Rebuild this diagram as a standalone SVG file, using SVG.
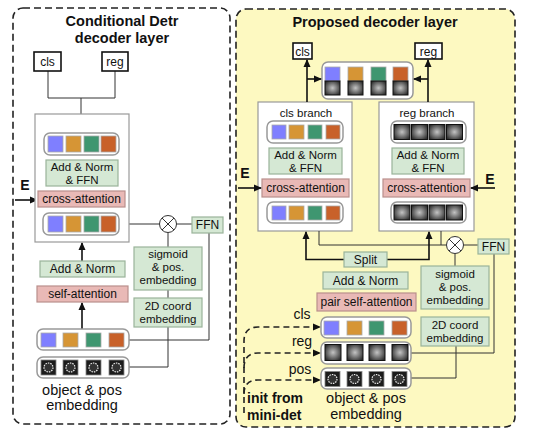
<svg xmlns="http://www.w3.org/2000/svg" xmlns:xlink="http://www.w3.org/1999/xlink" width="538" height="441" viewBox="0 0 538 441">
<style>
text{font-family:"Liberation Sans",Arial,sans-serif;fill:#111;text-anchor:middle}
.t12{font-size:12px}
.t11{font-size:11.5px}
.b{font-weight:bold}
.panel{stroke:#222;stroke-width:1.6;stroke-dasharray:7,4}
.out{fill:#fff;stroke:#111;stroke-width:1.6}
.big{fill:#fff;stroke:#999;stroke-width:1.2}
.row{fill:#fff;stroke:#999;stroke-width:1.5}
.grn{fill:#d5e8d4;stroke:#9ab39a;stroke-width:1.2}
.pnk{fill:#e9b9b6;stroke:#b98f8c;stroke-width:1.2}
.ln{fill:none;stroke:#333;stroke-width:1}
.ar{fill:none;stroke:#111;stroke-width:1.6;marker-end:url(#ah)}
.da{fill:none;stroke:#222;stroke-width:1.6;stroke-dasharray:6,4}
.bl{fill:#7f7fff;stroke:#aaa;stroke-width:0.8}
.or{fill:#d69535;stroke:#aaa;stroke-width:0.8}
.gr{fill:#3f9670;stroke:#aaa;stroke-width:0.8}
.do{fill:#c8612a;stroke:#aaa;stroke-width:0.8}
.gy{fill:url(#rg);stroke:#111;stroke-width:1}
.ps{fill:#1c1c1c;stroke:#888;stroke-width:0.8}
.pc{fill:#333;stroke:#eee;stroke-width:1.2;stroke-dasharray:1.5,1}
.x{fill:#fff;stroke:#333;stroke-width:1}
</style>
<defs>
<radialGradient id="rg" cx="0.5" cy="0.5" r="0.6">
<stop offset="0" stop-color="#c4c4c4"/>
<stop offset="1" stop-color="#2e2e2e"/>
</radialGradient>
<marker id="ah" markerWidth="8" markerHeight="8" refX="7" refY="4" orient="auto" markerUnits="userSpaceOnUse">
<path d="M0,0.5 L8,4 L0,7.5 Z" fill="#111"/>
</marker>
</defs>

<!-- Left panel -->
<g id="left-panel">
<rect class="panel" x="13" y="8" width="217" height="416" rx="10" fill="#fff"/>
<text class="b" x="122" y="26" font-size="14.5">Conditional Detr</text>
<text class="b" x="122" y="43" font-size="14.5">decoder layer</text>
</g>

<g id="connectors-left">
<path class="ln" d="M48 71 V98 H115 V71 M81 98 V133" stroke-width="1.3"/>
<path class="ln" d="M119 224 H159.5 M176.5 224 H192 M168 232.5 V247 M168 290 V298"/>
<path class="ln" d="M209 233 V340 H129 M129 367 H168 V327"/>
<path class="ar" d="M15 200 H37"/>
<path class="ar" d="M82 329 V303"/>
<path class="ar" d="M82 261 V243"/>
</g>

<g id="l-cls"><rect class="out" x="34" y="52" width="27" height="19"/><text class="t12" x="47.5" y="66">cls</text></g>
<g id="l-reg"><rect class="out" x="102" y="52" width="26" height="19"/><text class="t12" x="115" y="66">reg</text></g>

<g id="l-decoder">
<rect class="big" x="35" y="114" width="94" height="128"/>
</g>
<g id="l-row1">
<rect class="row" x="44" y="133" width="75" height="22" rx="6"/>
<rect class="bl" x="48" y="136" width="15" height="16"/><rect class="or" x="66" y="136" width="15" height="16"/><rect class="gr" x="84" y="136" width="15" height="16"/><rect class="do" x="101" y="136" width="15" height="16"/>
</g>
<g id="l-addnormffn"><rect class="grn" x="46" y="160" width="72" height="26"/><text class="t11" x="82" y="170.5">Add &amp; Norm</text><text class="t11" x="82" y="183.5">&amp; FFN</text></g>
<g id="l-cross"><rect class="pnk" x="38" y="191" width="87" height="16"/><text class="t12" x="81.5" y="203">cross-attention</text></g>
<g id="l-E"><text class="b" x="25" y="190" font-size="14">E</text></g>
<g id="l-row2">
<rect class="row" x="43" y="213" width="76" height="22" rx="6"/>
<rect class="bl" x="48" y="216" width="15" height="16"/><rect class="or" x="66" y="216" width="15" height="16"/><rect class="gr" x="84" y="216" width="15" height="16"/><rect class="do" x="101" y="216" width="15" height="16"/>
</g>
<g id="l-mult"><circle class="x" cx="168" cy="224" r="8.5"/><path class="ln" d="M162 218 L174 230 M174 218 L162 230"/></g>
<g id="l-ffn"><rect class="grn" x="192" y="217" width="31" height="16"/><text class="t12" x="207.5" y="229">FFN</text></g>
<g id="l-sigmoid"><rect class="grn" x="134" y="247" width="68" height="43"/><text class="t11" x="168" y="258">sigmoid</text><text class="t11" x="168" y="271">&amp; pos.</text><text class="t11" x="168" y="284">embedding</text></g>
<g id="l-2d"><rect class="grn" x="134" y="298" width="68" height="29"/><text class="t11" x="168" y="310">2D coord</text><text class="t11" x="168" y="323">embedding</text></g>
<g id="l-addnorm"><rect class="grn" x="40" y="261" width="85" height="16"/><text class="t12" x="82.5" y="273">Add &amp; Norm</text></g>
<g id="l-selfattn"><rect class="pnk" x="37" y="286" width="91" height="16"/><text class="t12" x="82.5" y="298">self-attention</text></g>
<g id="l-obj">
<rect class="row" x="37" y="329" width="92" height="21" rx="6"/>
<rect class="bl" x="41" y="333" width="15" height="14"/><rect class="or" x="63" y="333" width="15" height="14"/><rect class="gr" x="86" y="333" width="15" height="14"/><rect class="do" x="109" y="333" width="15" height="14"/>
</g>
<g id="l-pos">
<rect class="row" x="37" y="357" width="92" height="21" rx="6"/>
<rect class="ps" x="41" y="360" width="15" height="15"/><circle class="pc" cx="48.5" cy="367.5" r="4.5"/>
<rect class="ps" x="63" y="360" width="15" height="15"/><circle class="pc" cx="70.5" cy="367.5" r="4.5"/>
<rect class="ps" x="86" y="360" width="15" height="15"/><circle class="pc" cx="93.5" cy="367.5" r="4.5"/>
<rect class="ps" x="109" y="360" width="15" height="15"/><circle class="pc" cx="116.5" cy="367.5" r="4.5"/>
</g>
<g id="l-label"><text x="82" y="395" font-size="14.5">object &amp; pos</text><text x="82" y="410" font-size="14.5">embedding</text></g>

<!-- Right panel -->
<g id="right-panel">
<rect class="panel" x="236" y="9" width="279" height="418" rx="10" fill="#fdf9c1"/>
<text class="b" x="375" y="27" font-size="14.5">Proposed decoder layer</text>
</g>

<g id="r-cls"><rect class="out" x="293" y="43" width="19" height="16"/><text class="t12" x="302.5" y="55.5">cls</text></g>
<g id="r-reg"><rect class="out" x="415" y="43" width="27" height="16"/><text class="t12" x="428.5" y="55.5">reg</text></g>
<g id="r-top">
<rect class="row" x="322" y="62" width="91" height="37" rx="6"/>
<rect class="bl" x="325" y="67" width="15" height="14"/><rect class="or" x="348" y="67" width="15" height="14"/><rect class="gr" x="371" y="67" width="15" height="14"/><rect class="do" x="393" y="67" width="15" height="14"/>
<rect class="gy" x="325" y="81" width="15" height="14"/><rect class="gy" x="348" y="81" width="15" height="14"/><rect class="gy" x="371" y="81" width="15" height="14"/><rect class="gy" x="393" y="81" width="15" height="14"/>
</g>

<g id="r-clsbranch">
<rect class="big" x="258" y="102" width="94" height="129"/>
<text x="306" y="117" font-size="11.5">cls branch</text>
<rect class="row" x="267" y="121" width="76" height="22" rx="6"/>
<rect class="bl" x="272" y="125" width="14" height="14"/><rect class="or" x="289" y="125" width="15" height="14"/><rect class="gr" x="308" y="125" width="14" height="14"/><rect class="do" x="326" y="125" width="14" height="14"/>
<rect class="grn" x="269" y="148" width="73" height="26"/><text class="t11" x="305.5" y="159">Add &amp; Norm</text><text class="t11" x="305.5" y="172">&amp; FFN</text>
<rect class="pnk" x="262" y="179" width="87" height="18"/><text class="t12" x="305.5" y="192">cross-attention</text>
<rect class="row" x="267" y="202" width="76" height="21" rx="6"/>
<rect class="bl" x="272" y="206" width="14" height="14"/><rect class="or" x="289" y="206" width="15" height="14"/><rect class="gr" x="308" y="206" width="14" height="14"/><rect class="do" x="326" y="206" width="14" height="14"/>
</g>

<g id="r-regbranch">
<rect class="big" x="379" y="102" width="95" height="129"/>
<text x="427" y="117" font-size="11.5">reg branch</text>
<rect class="row" x="391" y="121" width="75" height="22" rx="6"/>
<rect class="gy" x="394" y="124.5" width="16" height="15"/><rect class="gy" x="411.5" y="124.5" width="16" height="15"/><rect class="gy" x="429" y="124.5" width="16" height="15"/><rect class="gy" x="446.5" y="124.5" width="16" height="15"/>
<rect class="grn" x="392" y="148" width="72" height="26"/><text class="t11" x="428" y="159">Add &amp; Norm</text><text class="t11" x="428" y="172">&amp; FFN</text>
<rect class="pnk" x="383" y="179" width="87" height="18"/><text class="t12" x="426.5" y="192">cross-attention</text>
<rect class="row" x="391" y="202" width="75" height="21" rx="6"/>
<rect class="gy" x="394" y="205" width="16" height="15"/><rect class="gy" x="411.5" y="205" width="16" height="15"/><rect class="gy" x="429" y="205" width="16" height="15"/><rect class="gy" x="446.5" y="205" width="16" height="15"/>
</g>

<g id="connectors-right">
<path class="ar" d="M307 102 V60"/>
<path class="ar" d="M307 79 H321"/>
<path class="ar" d="M428 102 V60"/>
<path class="ar" d="M428 79 H414"/>
<path class="ar" d="M238 188 H261"/>
<path class="ar" d="M495 188 H471"/>
<path class="ln" d="M319 231 V245 H446.5 M441 231 V245 M463.5 245 H478 M455 253.5 V266"/>
<path class="ar" d="M344 259.5 H306 V232" stroke-width="1.4"/>
<path class="ar" d="M387 259.5 H429 V232" stroke-width="1.4"/>
<path class="ln" d="M494 254 V353 H411 M456 346 V378 H411"/>
<path class="da" d="M244 413 V341 Q244 327 258 327 H319"/>
<path class="da" d="M244 368 Q244 353 258 353 H319"/>
<path class="da" d="M244 394 Q244 380 258 380 H319"/>
<path d="M313 323.5 L321 327 L313 330.5 Z M313 349.5 L321 353 L313 356.5 Z M313 376.5 L321 380 L313 383.5 Z" fill="#111"/>
</g>

<g id="r-E1"><text class="b" x="245" y="178" font-size="14">E</text></g>
<g id="r-E2"><text class="b" x="490" y="184" font-size="14">E</text></g>
<g id="r-mult"><circle class="x" cx="455" cy="245" r="8.5"/><path class="ln" d="M449 239 L461 251 M461 239 L449 251"/></g>
<g id="r-ffn"><rect class="grn" x="478" y="239" width="31" height="15"/><text class="t12" x="493.5" y="251">FFN</text></g>
<g id="r-split"><rect class="grn" x="344" y="252" width="43" height="15"/><text class="t12" x="365.5" y="264">Split</text></g>
<g id="r-addnorm"><rect class="grn" x="323" y="272" width="85" height="17"/><text class="t12" x="365.5" y="285">Add &amp; Norm</text></g>
<g id="r-pairattn"><rect class="pnk" x="317" y="293" width="99" height="18"/><text class="t12" x="366.5" y="306">pair self-attention</text></g>
<g id="r-sigmoid"><rect class="grn" x="421" y="266" width="68" height="43"/><text class="t11" x="455" y="278">sigmoid</text><text class="t11" x="455" y="291">&amp; pos.</text><text class="t11" x="455" y="304">embedding</text></g>
<g id="r-2d"><rect class="grn" x="421" y="317" width="68" height="29"/><text class="t11" x="455" y="329">2D coord</text><text class="t11" x="455" y="342">embedding</text></g>

<g id="r-clsrow">
<rect class="row" x="321" y="317" width="90" height="21" rx="6"/>
<rect class="bl" x="324" y="321" width="15" height="14"/><rect class="or" x="347" y="321" width="15" height="14"/><rect class="gr" x="369" y="321" width="15" height="14"/><rect class="do" x="392" y="321" width="15" height="14"/>
</g>
<g id="r-regrow">
<rect class="row" x="321" y="342" width="90" height="22" rx="6"/>
<rect class="gy" x="325" y="344.5" width="16" height="16"/><rect class="gy" x="347" y="344.5" width="16" height="16"/><rect class="gy" x="369" y="344.5" width="16" height="16"/><rect class="gy" x="392" y="344.5" width="16" height="16"/>
</g>
<g id="r-posrow">
<rect class="row" x="321" y="368" width="90" height="21" rx="6"/>
<rect class="ps" x="325" y="371.5" width="15" height="15"/><circle class="pc" cx="332.5" cy="379" r="4.5"/>
<rect class="ps" x="347" y="371.5" width="15" height="15"/><circle class="pc" cx="354.5" cy="379" r="4.5"/>
<rect class="ps" x="369" y="371.5" width="15" height="15"/><circle class="pc" cx="376.5" cy="379" r="4.5"/>
<rect class="ps" x="392" y="371.5" width="15" height="15"/><circle class="pc" cx="399.5" cy="379" r="4.5"/>
</g>
<g id="r-labels">
<text x="302" y="319" font-size="14">cls</text>
<text x="302" y="346" font-size="14">reg</text>
<text x="300" y="374" font-size="14">pos</text>
</g>
<g id="r-init"><text class="b" x="247" y="403" font-size="14" style="text-anchor:start">init from</text><text class="b" x="247" y="420" font-size="14" style="text-anchor:start">mini-det</text></g>
<g id="r-objlabel"><text x="366" y="403" font-size="14.5">object &amp; pos</text><text x="366" y="419" font-size="14.5">embedding</text></g>
</svg>
